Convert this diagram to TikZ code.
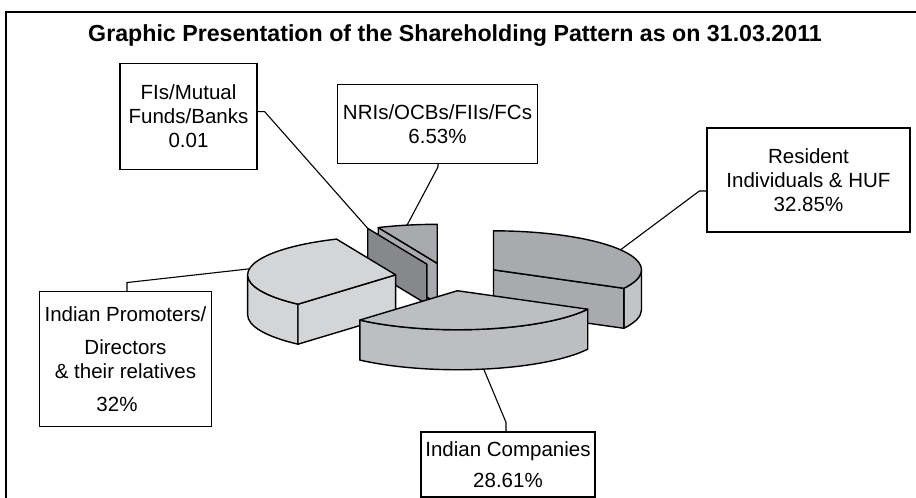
\documentclass[tikz,border=0pt]{standalone}
\usepackage{fontspec}
\setmainfont{Liberation Sans}
\usetikzlibrary{calc}

\definecolor{sliceA}{HTML}{D4D5D7}
\definecolor{sliceB}{HTML}{BDBEC1}
\definecolor{sliceC}{HTML}{A9AAAD}
\definecolor{rimC}{HTML}{C3C4C6}
\definecolor{sliceD}{HTML}{A9AAAD}
\definecolor{sliceE}{HTML}{87888B}

\tikzset{
  lbl/.style={draw, line width=1.3pt, align=center, inner sep=0pt,
    font=\fontsize{20.5}{#1}\selectfont},
  lbl/.default=24,
  lead/.style={line width=1.1pt},
  facet/.style={draw, line width=1.4pt, line join=round},
  rim/.style={x radius=148pt, y radius=39pt},
}

\begin{document}
\begin{tikzpicture}[x=1pt,y=1pt]
  \useasboundingbox (0,0) rectangle (916,498);
  \draw[line width=1.2pt] (6,0) -- (6,486) -- (916,486);
  \node[font=\fontsize{23.2}{26}\selectfont\bfseries] (title) at (455,462)
    {Graphic Presentation of the Shareholding Pattern as on 31.03.2011};

  % exploded pie, apex of each slice moved out along its middle angle
  \coordinate (ctr) at (448,221);
  \coordinate (pD) at ($(ctr)+(101.75:53pt and 13.97pt)$);
  \coordinate (pE) at ($(ctr)+(113.52:53pt and 13.97pt)$);
  \coordinate (pA) at ($(ctr)+(171.14:53pt and 13.97pt)$);
  \coordinate (pC) at ($(ctr)+(30.87:53pt and 13.97pt)$);
  \coordinate (pB) at ($(ctr)+(-79.76:53pt and 13.97pt)$);

  % NRIs
  \draw[facet, fill=sliceD] (pD) -- ++(113.5:148pt and 39pt) -- ++(0,-40)
    -- ($(pD)+(0,-40)$) -- cycle;
  \draw[facet] ($(pD)+(0,39)$) -- ($(pD)+(0,-40)$);
  \draw[facet, fill=sliceD] (pD) -- ++(90:148pt and 39pt)
    arc[rim, start angle=90, end angle=113.5] -- cycle;
  % FIs
  \draw[facet, fill=sliceE] (pE) -- ++(113.52:148pt and 39pt) -- ++(0,-40)
    -- ($(pE)+(0,-40)$) -- cycle;
  % Indian Promoters
  \draw[facet, fill=sliceA] (pA) ++(180:148pt and 39pt)
    arc[rim, start angle=180, end angle=228.74] -- ++(0,-40)
    arc[rim, start angle=228.74, end angle=180] -- cycle;
  \draw[facet, fill=sliceA] (pA) -- ++(228.74:148pt and 39pt) -- ++(0,-40)
    -- ($(pA)+(0,-40)$) -- cycle;
  \draw[facet, fill=sliceA] (pA) -- ++(113.54:148pt and 39pt)
    arc[rim, start angle=113.54, end angle=228.74] -- cycle;
  % Resident
  \draw[facet, fill=rimC] (pC) ++(-28.26:148pt and 39pt)
    arc[rim, start angle=-28.26, end angle=0] -- ++(0,-40)
    arc[rim, start angle=0, end angle=-28.26] -- cycle;
  \draw[facet, fill=sliceC] (pC) -- ++(-28.26:148pt and 39pt) -- ++(0,-40)
    -- ($(pC)+(0,-40)$) -- cycle;
  \draw[facet, fill=sliceC] (pC) -- ++(-28.26:148pt and 39pt)
    arc[rim, start angle=-28.26, end angle=90] -- cycle;
  % Indian Companies
  \draw[facet, fill=sliceB] (pB) ++(-131.26:148pt and 39pt)
    arc[rim, start angle=-131.26, end angle=-28.26] -- ++(0,-40)
    arc[rim, start angle=-28.26, end angle=-131.26] -- cycle;
  \draw[facet, fill=sliceB] (pB) -- ++(-131.26:148pt and 39pt)
    arc[rim, start angle=-131.26, end angle=-28.26] -- cycle;

  \coordinate (eD) at ($(pD)+(101.75:148pt and 39pt)$);
  \coordinate (eE) at ($(pE)+(113.52:148pt and 39pt)$);
  \coordinate (eA) at ($(pA)+(171.14:148pt and 39pt)$);
  \coordinate (eC) at ($(pC)+(30.87:148pt and 39pt)$);
  \coordinate (eB) at ($(pB)+(-79.76:148pt and 39pt)+(0,-40)$);

  \node[lbl, minimum width=137pt, minimum height=106pt] (fis) at (188.5,381.7)
    {FIs/Mutual\\Funds/Banks\\0.01};
  \node[lbl, minimum width=200pt, minimum height=79pt] (nri) at (437.5,374.2)
    {NRIs/OCBs/FIIs/FCs\\6.53\%};
  \node[lbl, minimum width=203pt, minimum height=104pt] (res) at (808.5,318)
    {Resident\\Individuals \& HUF\\32.85\%};
  \node[lbl, minimum width=172pt, minimum height=135pt] (prom) at (125.5,138.8)
    {Indian Promoters/\\[9pt]Directors\\\& their relatives\\[9pt]32\%\hspace*{17pt}};
  \node[lbl=31, minimum width=174pt, minimum height=65pt] (comp) at (508,33.5)
    {Indian Companies\\28.61\%};

  \draw[lead] ([yshift=4.6pt]fis.east) -- ++(7,0) -- (eE);
  \draw[lead] ([xshift=0.5pt]nri.south) -- ++(0,-3) -- (eD);
  \draw[lead] ([yshift=-11pt]res.west) -- ++(-7,0) -- (eC);
  \draw[lead] ([xshift=1.5pt]prom.north) -- ++(0,8.5) -- (eA);
  \draw[lead] ([xshift=-2pt]comp.north) -- ++(0,9) -- (eB);
\end{tikzpicture}
\end{document}
